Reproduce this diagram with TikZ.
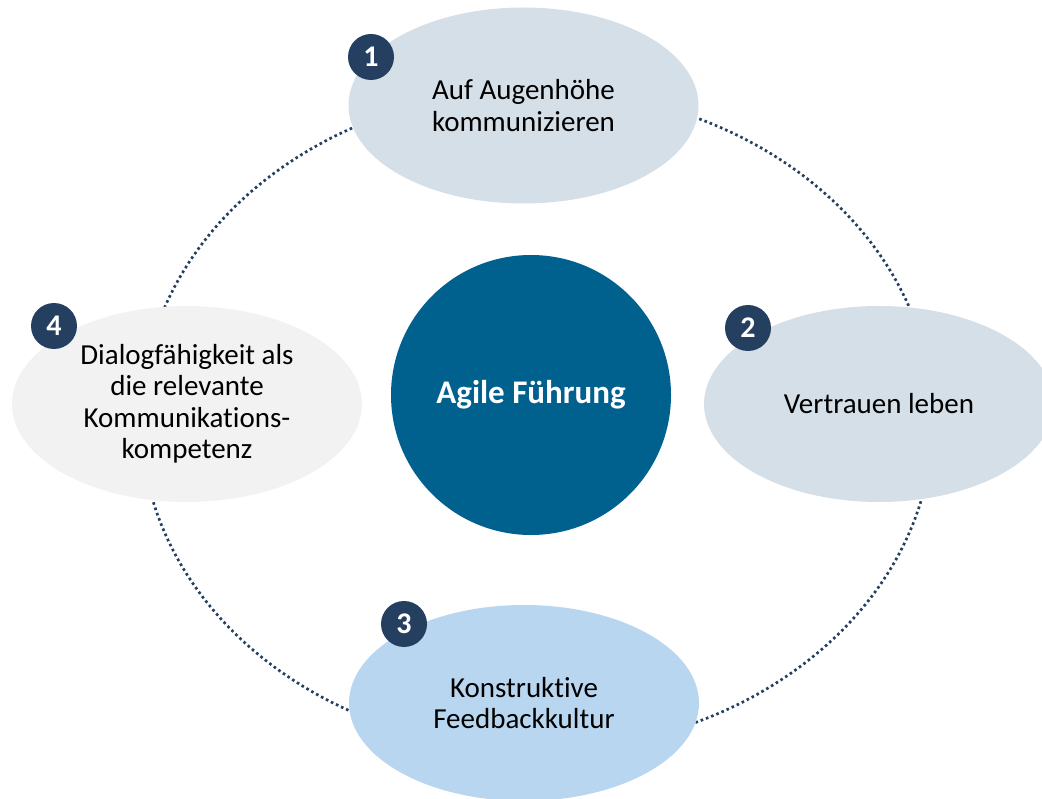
\documentclass[tikz,border=0pt]{standalone}
\usepackage{fontspec}
\setmainfont{Carlito}[Ligatures=NoCommon]
\usetikzlibrary{shapes.geometric}
\definecolor{ringblue}{HTML}{243F60}
\definecolor{hubblue}{HTML}{00618F}
\definecolor{paleblue}{HTML}{D5DFE8}
\definecolor{lightblue}{HTML}{B9D6F1}
\definecolor{palegray}{HTML}{F2F2F2}
\tikzset{
  topic/.style={ellipse, minimum width=350pt, minimum height=196pt, inner sep=0pt,
    align=center, text=black, font=\fontsize{29}{31.5}\selectfont},
  badge/.style={circle, fill=ringblue, minimum size=46pt, inner sep=0pt,
    text=white, font=\fontsize{30}{30}\selectfont\bfseries},
  hub/.style={circle, fill=hubblue, minimum size=280pt, inner sep=0pt,
    text=white, font=\fontsize{33}{38}\selectfont\bfseries},
  ring/.style={ringblue, line width=2.7pt, dash pattern=on 2.6pt off 3pt}
}

\begin{document}
\begin{tikzpicture}[x=1pt,y=-1pt]
  \useasboundingbox (0,0) rectangle (1042,799);
  \clip (0,0) rectangle (1042,799);
  % dotted ring behind everything
  \draw[ring] (537,420) ellipse [x radius=396pt, y radius=330pt];
  % centre
  \node[hub] (fuehrung) at (531,395) {Agile Führung};
  % the four topics
  \node[topic, fill=paleblue] (augenhoehe) at (523.5,105.5) {Auf Augenhöhe\\kommunizieren};
  \node[topic, fill=paleblue] (vertrauen) at (879,404) {Vertrauen leben};
  \node[topic, fill=lightblue] (feedback) at (524,703) {Konstruktive\\Feedbackkultur};
  \node[topic, fill=palegray] (dialog) at (187,404) {Dialogfähigkeit als\\die relevante\\Kommunikations-\\kompetenz};
  % numbers
  \node[badge] (n1) at (371,57) {1};
  \node[badge] (n2) at (748,328) {2};
  \node[badge] (n3) at (404,624) {3};
  \node[badge] (n4) at (54,326) {4};
\end{tikzpicture}
\end{document}
